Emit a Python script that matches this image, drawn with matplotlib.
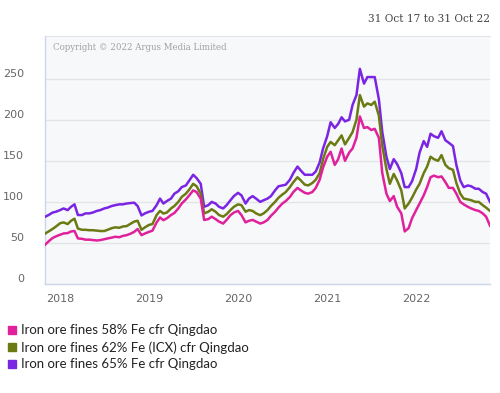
import matplotlib
matplotlib.use("Agg")
import matplotlib.pyplot as plt
from matplotlib.lines import Line2D
from matplotlib.transforms import ScaledTranslation
import pandas as pd

title_text = "31 Oct 17 to 31 Oct 22"
copyright_text = "Copyright \u00a9 2022 Argus Media Limited"
series_names = [
    "Iron ore fines 58% Fe cfr Qingdao",
    "Iron ore fines 62% Fe (ICX) cfr Qingdao",
    "Iron ore fines 65% Fe cfr Qingdao",
]
y_ticks = [0, 50, 100, 150, 200, 250]
x_tick_years = ["2018", "2019", "2020", "2021", "2022"]

dates = [
    "2017-11-01", "2017-11-15", "2017-12-01", "2017-12-15",
    "2018-01-01", "2018-01-15", "2018-02-01", "2018-02-15", "2018-03-01", "2018-03-15",
    "2018-04-01", "2018-04-15", "2018-05-01", "2018-05-15", "2018-06-01", "2018-06-15",
    "2018-07-01", "2018-07-15", "2018-08-01", "2018-08-15", "2018-09-01", "2018-09-15",
    "2018-10-01", "2018-10-15", "2018-11-01", "2018-11-15", "2018-12-01", "2018-12-15",
    "2019-01-01", "2019-01-15", "2019-02-01", "2019-02-15", "2019-03-01", "2019-03-15",
    "2019-04-01", "2019-04-15", "2019-05-01", "2019-05-15", "2019-06-01", "2019-06-15",
    "2019-07-01", "2019-07-15", "2019-08-01", "2019-08-15", "2019-09-01", "2019-09-15",
    "2019-10-01", "2019-10-15", "2019-11-01", "2019-11-15", "2019-12-01", "2019-12-15",
    "2020-01-01", "2020-01-15", "2020-02-01", "2020-02-15", "2020-03-01", "2020-03-15",
    "2020-04-01", "2020-04-15", "2020-05-01", "2020-05-15", "2020-06-01", "2020-06-15",
    "2020-07-01", "2020-07-15", "2020-08-01", "2020-08-15", "2020-09-01", "2020-09-15",
    "2020-10-01", "2020-10-15", "2020-11-01", "2020-11-15", "2020-12-01", "2020-12-15",
    "2021-01-01", "2021-01-15", "2021-02-01", "2021-02-15", "2021-03-01", "2021-03-15",
    "2021-04-01", "2021-04-15", "2021-05-01", "2021-05-15", "2021-06-01", "2021-06-15",
    "2021-07-01", "2021-07-15", "2021-08-01", "2021-08-15", "2021-09-01", "2021-09-15",
    "2021-10-01", "2021-10-15", "2021-11-01", "2021-11-15", "2021-12-01", "2021-12-15",
    "2022-01-01", "2022-01-15", "2022-02-01", "2022-02-15", "2022-03-01", "2022-03-15",
    "2022-04-01", "2022-04-15", "2022-05-01", "2022-05-15", "2022-06-01", "2022-06-15",
    "2022-07-01", "2022-07-15", "2022-08-01", "2022-08-15", "2022-09-01", "2022-09-15",
    "2022-10-01", "2022-10-15", "2022-10-31",
]

fe65 = [
    82, 84, 87, 88,
    90, 92, 90, 94, 97, 84,
    84, 86, 86, 87, 89, 90,
    92, 93, 95, 96, 97, 97,
    98, 98.5, 99, 95, 83.5, 86,
    88, 89, 96, 104, 98, 101,
    104, 110, 113, 118, 120, 126,
    133, 129, 122, 94, 96, 100,
    98, 94, 92, 96, 102, 107,
    111, 108, 98, 104, 107, 104,
    100, 102, 104, 107, 114, 119,
    120, 121, 127, 135, 143, 138,
    133, 133, 133, 137, 148, 165,
    180, 197, 190, 195, 203, 198,
    200, 218, 230, 262, 244, 252,
    252, 252, 225, 185, 155, 140,
    152, 146, 135, 118, 118, 125,
    140, 160, 174, 167, 183, 180,
    178, 186, 175, 172, 168, 145,
    126, 118, 120, 119, 116, 116,
    112, 110, 100,
]

fe62 = [
    61.5, 64, 67, 70,
    74, 75, 73, 77, 79.5, 67.5,
    66, 66, 65.5, 65.5, 65, 64.5,
    64.5, 66, 68, 69, 68.5, 70,
    70.5, 73, 76, 77, 66, 69,
    72, 73, 84, 89, 85.8, 87,
    92, 95, 100, 106, 110, 115,
    122, 119, 110, 86, 88, 91,
    88, 84, 82, 85, 90, 94,
    97, 96, 88, 90, 89, 86,
    83.8, 86, 90, 95, 100, 105,
    109, 112, 118, 124, 130, 126,
    121, 120, 123, 127, 135, 152,
    167, 173, 169, 175, 181, 170,
    178, 185, 200, 230, 216, 220,
    218, 222, 205, 168, 140, 122,
    134, 126, 114, 92, 98, 105,
    115, 122, 135, 143, 155, 152,
    150, 157, 145, 141, 139, 123,
    110, 104, 103, 102, 100, 100,
    96, 93, 89,
]

fe58 = [
    48, 52, 56, 58,
    60, 61.5, 62, 64, 64.5, 55.5,
    55, 54, 54, 53.5, 53, 53.5,
    54.5, 55.5, 56.5, 57.5, 57, 58.5,
    59.5, 61, 63.5, 67, 59.5, 61.5,
    63.5, 65, 75, 81, 77.7, 80,
    84, 86.5, 92, 98, 103, 108,
    114, 112, 104, 78, 79, 82,
    79, 76, 73.6, 78, 83.8, 87,
    89, 84, 75, 77, 78, 76,
    73.6, 75, 78, 83, 88, 93,
    98, 101, 106, 112, 117, 114,
    111, 110, 112, 117, 127, 142,
    155, 161, 145, 152, 165, 150,
    160, 165, 178, 204, 190, 191,
    187.5, 189, 178, 135, 110, 101,
    107, 94, 86, 64, 68, 80,
    90, 98, 108, 118, 130, 132,
    130, 131, 124, 117, 117, 110,
    100, 97, 94, 92, 90, 89,
    86, 82, 71,
]

colors = {"fe58": "#e0219c", "fe62": "#6b7a12", "fe65": "#7a25e3"}

df = pd.DataFrame({"date": pd.to_datetime(dates), "fe58": fe58, "fe62": fe62, "fe65": fe65})

fig = plt.figure(figsize=(5.0, 3.93), dpi=100)
fig.patch.set_facecolor("white")
ax = fig.add_axes([45 / 500, 1 - 284 / 393, 445 / 500, 248 / 393])
ax.set_facecolor("#f7f8fa")

ax.plot(df["date"], df["fe65"], color=colors["fe65"], lw=1.8, zorder=3)
ax.plot(df["date"], df["fe62"], color=colors["fe62"], lw=1.8, zorder=4)
ax.plot(df["date"], df["fe58"], color=colors["fe58"], lw=1.8, zorder=5)

ax.set_xlim(pd.Timestamp("2017-10-31"), pd.Timestamp("2022-10-31"))
ax.set_ylim(0, 302)
ax.set_yticks(y_ticks)
ax.grid(axis="y", color="#e3e4e8", lw=1)
ax.set_axisbelow(True)
ax.set_xticks([pd.Timestamp(y + "-01-01") for y in x_tick_years])
ax.set_xticklabels(x_tick_years)
ax.tick_params(axis="both", length=0, colors="#666666", labelsize=8)
ax.tick_params(axis="y", pad=15)
ax.tick_params(axis="x", pad=7)
for lbl in ax.get_yticklabels():
    lbl.set_transform(lbl.get_transform() + ScaledTranslation(0, 4 / 72, fig.dpi_scale_trans))

for s in ["left", "bottom"]:
    ax.spines[s].set_color("#ccd6eb")
    ax.spines[s].set_linewidth(1)
ax.spines["top"].set_color("#e3e4e8")
ax.spines["right"].set_visible(False)

ax.text(0.018, 0.955, copyright_text, transform=ax.transAxes, ha="left", va="center",
        family="DejaVu Serif", fontsize=6.2, color="#a0a0a0")
fig.text(490 / 500, 1 - 19 / 393, title_text, ha="right", va="center",
         family="DejaVu Serif", fontsize=7.6, color="#444444")

handles = [
    Line2D([], [], ls="none", marker="s", markersize=6, color=colors["fe58"]),
    Line2D([], [], ls="none", marker="s", markersize=6, color=colors["fe62"]),
    Line2D([], [], ls="none", marker="s", markersize=6, color=colors["fe65"]),
]
fig.legend(handles, series_names, loc="upper left", bbox_to_anchor=(1 / 500, 1 - 319 / 393),
           frameon=False, handlelength=0.8, handletextpad=0.3, labelspacing=0.36,
           borderaxespad=0, borderpad=0.4,
           prop={"family": "Lato", "size": 9.5}, labelcolor="#222222")

fig.savefig("out.png", dpi=100)
